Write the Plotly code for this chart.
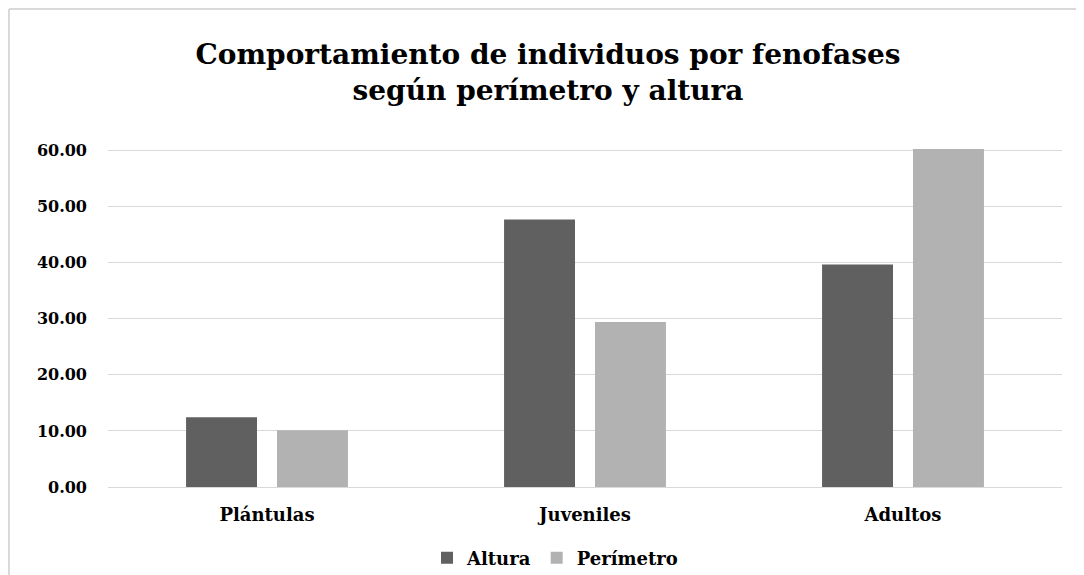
import plotly.graph_objects as go

categories = ["Plántulas", "Juveniles", "Adultos"]
altura = [12.45, 47.7, 39.7]
perimetro = [10.1, 29.45, 60.3]
series_names = ["Altura", "Perímetro"]
y_ticks = [0, 10, 20, 30, 40, 50, 60]
y_tick_labels = [f"{v:.2f}" for v in y_ticks]
title_lines = ["Comportamiento de individuos por fenofases", "según perímetro y altura"]

FONT = "DejaVu Serif"

fig = go.Figure()
fig.add_trace(go.Bar(x=categories, y=altura, name=series_names[0],
                     marker=dict(color="#606060", line=dict(width=0))))
fig.add_trace(go.Bar(x=categories, y=perimetro, name=series_names[1],
                     marker=dict(color="#b2b2b2", line=dict(width=0))))

W, H = 1084, 575
OFF = 8  # page body offset
ml, mt = 108 - OFF, 145 - OFF
pw, ph = 954, 342
mr = W - ml - pw
mb = H - mt - ph

fig.update_layout(
    width=W, height=H,
    margin=dict(l=ml, r=mr, t=mt, b=mb, autoexpand=False),
    paper_bgcolor="white", plot_bgcolor="white",
    barmode="group", bargap=0.428, bargroupgap=0.22,
    font=dict(family=FONT, color="#000000", size=16),
    title=dict(
        text="<b>" + "</b><br><b>".join(title_lines) + "</b>",
        x=(548 - OFF) / W, xref="container", xanchor="center",
        y=1 - 56 / H, yref="container", yanchor="top",
        font=dict(family=FONT, size=28, color="#000000"),
    ),
    legend=dict(
        orientation="h", x=(555 - OFF) / W, xref="container", xanchor="center",
        y=(H - 558 + OFF) / H, yref="container", yanchor="middle",
        font=dict(family=FONT, size=18, color="#000000", weight="bold"),
        bgcolor="rgba(0,0,0,0)", itemwidth=30, tracegroupgap=0,
    ),
    showlegend=True,
)

fig.update_xaxes(
    showgrid=False, showline=False, zeroline=False,
    ticks="outside", ticklen=11, tickcolor="rgba(0,0,0,0)",
    tickfont=dict(family=FONT, size=18, color="#000000", weight="bold"),
)
fig.update_yaxes(
    range=[0, 61], tickvals=y_ticks, ticktext=y_tick_labels,
    showgrid=True, gridcolor="#d9d9d9", gridwidth=1.3,
    zeroline=True, zerolinecolor="#d9d9d9", zerolinewidth=1.3,
    showline=False, ticks="", ticklabelstandoff=20,
    tickfont=dict(family=FONT, size=16, color="#000000", weight="bold"),
)

# outer chart border (only top and left edges visible); drawn at the figure's edge
x_left = (1 - ml) / pw
y_top = (ph + mt - 1) / ph
fig.add_shape(type="line", xref="paper", yref="paper",
              x0=x_left, x1=1.1, y0=y_top, y1=y_top,
              line=dict(color="#d9d9d9", width=2))
fig.add_shape(type="line", xref="paper", yref="paper",
              x0=x_left, x1=x_left, y0=-0.3, y1=y_top,
              line=dict(color="#d9d9d9", width=2))

fig.write_html("out.html")
